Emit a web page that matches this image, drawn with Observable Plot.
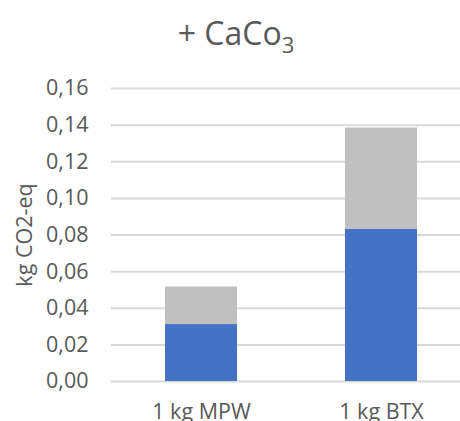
<!DOCTYPE html>
<html>
<head>
<meta charset="utf-8">
<script src="https://cdn.jsdelivr.net/npm/d3@7"></script>
<script src="https://cdn.jsdelivr.net/npm/@observablehq/plot@0.6"></script>
<style>
  html, body { margin: 0; padding: 0; background: #fff; }
  body { width: 460px; height: 421px; overflow: hidden; font-family: "Open Sans", sans-serif; }
  #title { height: 66px; line-height: 66px; font-size: 32px; color: #595959; text-align: center; white-space: nowrap; padding-left: 12px; }
  #title sub { font-size: 22px; line-height: 0; vertical-align: -8px; }
  #chart svg { display: block; }
</style>
</head>
<body>
<div id="title">+ CaCo<sub>3</sub></div>
<div id="chart"></div>
<script>
const categories = ["1 kg MPW", "1 kg BTX"];
const blueValues = [0.0311, 0.0832];
const grayValues = [0.0205, 0.0552];
const seriesNames = ["base", "CaCo3"];
const seriesColors = ["#4472C4", "#BFBFBF"];
const yTicks = [0, 0.02, 0.04, 0.06, 0.08, 0.10, 0.12, 0.14, 0.16];

const rows = [];
categories.forEach((c, i) => {
  rows.push({category: c, series: seriesNames[0], value: blueValues[i]});
  rows.push({category: c, series: seriesNames[1], value: grayValues[i]});
});

const fmt = d => d3.format(".2f")(d).replace(".", ",");

const chart = Plot.plot({
  width: 460,
  height: 355,
  marginTop: 22,
  marginBottom: 40,
  marginLeft: 111,
  marginRight: 0,
  style: {fontFamily: "Open Sans", fontSize: "21.5px", color: "#595959", background: "#fff"},
  x: {domain: categories, range: [111, 471], paddingInner: 0.6, paddingOuter: 0.3, label: null},
  y: {domain: [0, 0.16], label: null},
  color: {domain: seriesNames, range: seriesColors},
  marks: [
    Plot.ruleY(yTicks, {stroke: "#D9D9D9", strokeWidth: 2}),
    Plot.barY(rows, {x: "category", y: "value", fill: "series", order: seriesNames}),
    Plot.axisY({ticks: yTicks, tickFormat: fmt, tickSize: 0, tickPadding: 23, label: null}),
    Plot.axisX({tickSize: 0, tickPadding: 22, label: null}),
    Plot.text(["kg CO2-eq"], {frameAnchor: "left", dx: -86, rotate: -90, text: d => d, lineAnchor: "middle", textAnchor: "middle", fill: "#595959", fontSize: 21.5})
  ]
});
document.getElementById("chart").appendChild(chart);
</script>
</body>
</html>
